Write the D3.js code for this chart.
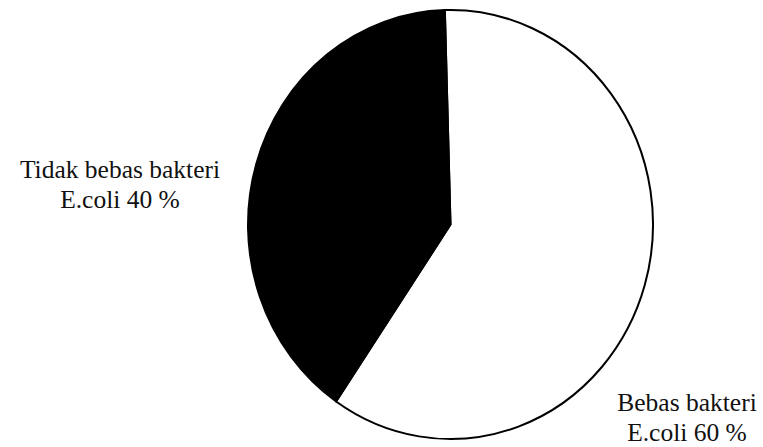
<!DOCTYPE html>
<html>
<head>
<meta charset="utf-8">
<script src="https://cdn.jsdelivr.net/npm/d3@7"></script>
<style>
  html, body { margin: 0; padding: 0; background: #fff; }
  svg { display: block; }
  text { font-family: "Liberation Serif", "DejaVu Serif", serif; fill: #111; }
</style>
</head>
<body>
<div id="chart"></div>
<script>
// data
var categories = ["Bebas bakteri E.coli", "Tidak bebas bakteri E.coli"];
var percents = [60, 40];
var labelLines = [
	["Bebas bakteri", "E.coli 60 %"],
	["Tidak bebas bakteri", "E.coli 40 %"]
];
var fills = ["#ffffff", "#000000"];

var width = 763, height = 447;
var cx = 450.5, cy = 224.5, rx = 202.5, ry = 214.5;
var tilt = -1.6 * Math.PI / 180; // the scan is turned a little

var svg = d3.select("#chart").append("svg")
	.attr("width", width)
	.attr("height", height);

var pie = d3.pie()
	.sort(null)
	.value(function (d) { return d; })
	.startAngle(tilt)
	.endAngle(2 * Math.PI + tilt);

var arc = d3.arc().innerRadius(0).outerRadius(rx);

var g = svg.append("g")
	.attr("transform", "translate(" + cx + "," + cy + ") scale(1," + (ry / rx) + ")");

g.selectAll("path")
	.data(pie(percents))
	.enter()
	.append("path")
	.attr("d", arc)
	.attr("fill", function (d, i) { return fills[i]; })
	.attr("stroke", "#000")
	.attr("stroke-width", 2)
	.attr("vector-effect", "non-scaling-stroke")
	.attr("stroke-linejoin", "round");

// labels, one block per slice
var labelPos = [
	{ x: 687, y: 411 },
	{ x: 120, y: 178 }
];
var lineGap = 29.5;

svg.selectAll("text.label")
	.data(labelLines)
	.enter()
	.append("text")
	.attr("class", "label")
	.attr("text-anchor", "middle")
	.attr("font-size", "25.5px")
	.each(function (lines, i) {
		var t = d3.select(this);
		lines.forEach(function (line, j) {
			t.append("tspan")
				.attr("x", labelPos[i].x)
				.attr("y", labelPos[i].y + j * lineGap)
				.text(line);
		});
	});
</script>
</body>
</html>
